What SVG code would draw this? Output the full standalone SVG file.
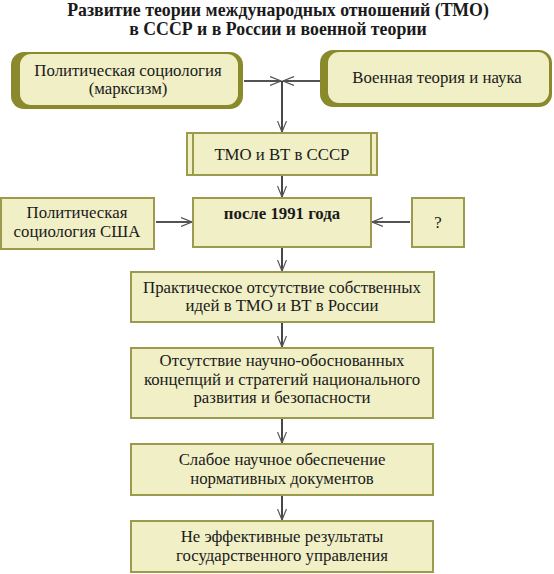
<svg xmlns="http://www.w3.org/2000/svg" width="554" height="574" viewBox="0 0 554 574">
<style>
text{font-family:"Liberation Serif","Times New Roman",serif;font-size:16.8px;fill:#1a1a1a;text-anchor:middle}
.title{font-weight:bold;font-size:17.8px}
.box{fill:#F0EFC6;stroke:#9C9A4C;stroke-width:2}
.dark{fill:#8A8A2C}
.inner{fill:#F0EFC6}
.con{stroke:#1a1a1a;stroke-width:1.6;fill:none;marker-end:url(#ah)}
</style>
<defs>
<marker id="ah" viewBox="0 0 12 10" refX="11" refY="5" markerWidth="12" markerHeight="10" markerUnits="userSpaceOnUse" orient="auto">
<path d="M0,0.5 L11,5 L0,9.5" fill="none" stroke="#555" stroke-width="1.2"/>
</marker>
</defs>
<rect width="554" height="574" fill="#fff"/>
<g id="title">
<text class="title" x="278" y="16">Развитие теории международных отношений (ТМО)</text>
<text class="title" x="278" y="35">в СССР и в России и военной теории</text>
</g>
<g id="connectors">
<line class="con" x1="244" y1="81" x2="281" y2="81"/>
<line class="con" x1="320" y1="81" x2="283" y2="81"/>
<line class="con" x1="282" y1="81" x2="282" y2="132"/>
<line class="con" x1="282" y1="175" x2="282" y2="197"/>
<line class="con" x1="156" y1="222" x2="192" y2="222"/>
<line class="con" x1="410" y1="222" x2="372" y2="222"/>
<line class="con" x1="282" y1="247" x2="282" y2="271"/>
<line class="con" x1="282" y1="322" x2="282" y2="347"/>
<line class="con" x1="282" y1="418" x2="282" y2="443"/>
<line class="con" x1="282" y1="495" x2="282" y2="520"/>
</g>
<g id="n-marx">
<rect class="dark" x="11" y="52" width="232" height="57" rx="13"/>
<rect class="inner" x="20" y="54" width="218" height="51" rx="11"/>
<text x="128" y="75.5">Политическая социология</text>
<text x="128" y="94.1">(марксизм)</text>
</g>
<g id="n-military">
<rect class="dark" x="320" y="50" width="232" height="57" rx="13"/>
<rect class="inner" x="328" y="52" width="221" height="51" rx="11"/>
<text x="437" y="83">Военная теория и наука</text>
</g>
<g id="n-ussr">
<rect class="box" x="187" y="133" width="190" height="42"/>
<line x1="193" y1="133" x2="193" y2="175" stroke="#9C9A4C" stroke-width="2"/>
<line x1="371" y1="133" x2="371" y2="175" stroke="#9C9A4C" stroke-width="2"/>
<text x="282" y="160">ТМО и ВТ в СССР</text>
</g>
<g id="n-usa">
<rect class="box" x="1" y="198" width="153" height="51"/>
<text x="77" y="218">Политическая</text>
<text x="77" y="236.6">социология США</text>
</g>
<g id="n-1991">
<rect class="box" x="193" y="198" width="178" height="49"/>
<text x="282" y="219" font-weight="bold" font-size="17.4">после 1991 года</text>
</g>
<g id="n-q">
<rect class="box" x="412" y="198" width="52" height="49"/>
<text x="438" y="228">?</text>
</g>
<g id="n-ideas">
<rect class="box" x="131" y="272" width="303" height="50"/>
<text x="282" y="292.5">Практическое отсутствие собственных</text>
<text x="282" y="311.1">идей в ТМО и ВТ в России</text>
</g>
<g id="n-concepts">
<rect class="box" x="131" y="348" width="302" height="70"/>
<text x="282" y="366">Отсутствие научно-обоснованных</text>
<text x="282" y="384.6">концепций и стратегий национального</text>
<text x="282" y="403.2">развития и безопасности</text>
</g>
<g id="n-docs">
<rect class="box" x="131" y="444" width="302" height="51"/>
<text x="282" y="465">Слабое научное обеспечение</text>
<text x="282" y="483.6">нормативных документов</text>
</g>
<g id="n-results">
<rect class="box" x="131" y="521" width="302" height="51"/>
<text x="282" y="542">Не эффективные результаты</text>
<text x="282" y="560.6">государственного управления</text>
</g>
</svg>
